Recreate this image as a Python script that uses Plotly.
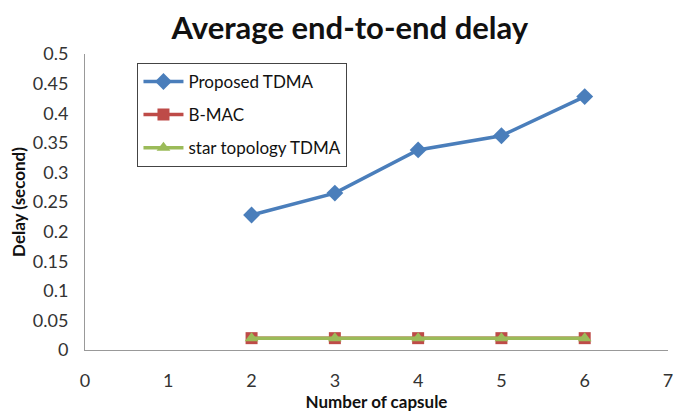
import plotly.graph_objects as go

capsules = [2, 3, 4, 5, 6]
proposed_tdma = [0.228, 0.265, 0.338, 0.362, 0.428]
b_mac = [0.02, 0.02, 0.02, 0.02, 0.02]
star_tdma = [0.02, 0.02, 0.02, 0.02, 0.02]

FONT = "Lato, 'Open Sans', sans-serif"

fig = go.Figure()
fig.add_trace(go.Scatter(x=capsules, y=proposed_tdma, name="Proposed TDMA", mode="lines+markers",
                         line=dict(color="#4A7EBB", width=3.5),
                         marker=dict(symbol="diamond", size=13, color="#4A7EBB"),
                         legendgroup="a"))
fig.add_trace(go.Scatter(x=capsules, y=b_mac, name="B-MAC", mode="lines+markers",
                         line=dict(color="#BE4B48", width=3.5),
                         marker=dict(symbol="square", size=12, color="#BE4B48"),
                         legendgroup="b"))
fig.add_trace(go.Scatter(x=capsules, y=star_tdma, name="star topology TDMA", mode="lines+markers",
                         line=dict(color="#9BBB59", width=3.5),
                         marker=dict(symbol="triangle-up", size=12, color="#9BBB59"),
                         legendgroup="c"))

fig.update_layout(
    width=677, height=404,
    margin=dict(l=77, r=17, t=46, b=62),
    paper_bgcolor="white", plot_bgcolor="white",
    font=dict(family=FONT, color="#222"),
    title=dict(text="<b>Average end-to-end delay</b>", x=0.505, xanchor="center", y=0.95, yanchor="middle",
               font=dict(size=31, family=FONT, color="#111")),
    showlegend=True,
    legend=dict(x=0.09, y=0.97, xanchor="left", yanchor="top",
                bordercolor="#444", borderwidth=1, bgcolor="white",
                font=dict(size=17, family=FONT, color="#111"),
                tracegroupgap=8, itemwidth=40),
    xaxis=dict(range=[0, 7], dtick=1, showgrid=False, zeroline=False,
               showline=True, linecolor="#999", linewidth=1, automargin=False,
               ticks="", ticklabelstandoff=14, tickfont=dict(size=18, color="#333"),
               title=dict(text="<b>Number of capsule</b>", font=dict(size=17, color="#111"), standoff=4)),
    yaxis=dict(range=[0, 0.5], dtick=0.05, showgrid=False, zeroline=False,
               showline=True, linecolor="#999", linewidth=1, automargin=False,
               ticks="", ticklabelstandoff=12, tickfont=dict(size=18, color="#333"), tickformat="~g",
               title=dict(text="<b>Delay (second)</b>", font=dict(size=17, color="#111"), standoff=2)),
)

fig.write_html("out.html")
